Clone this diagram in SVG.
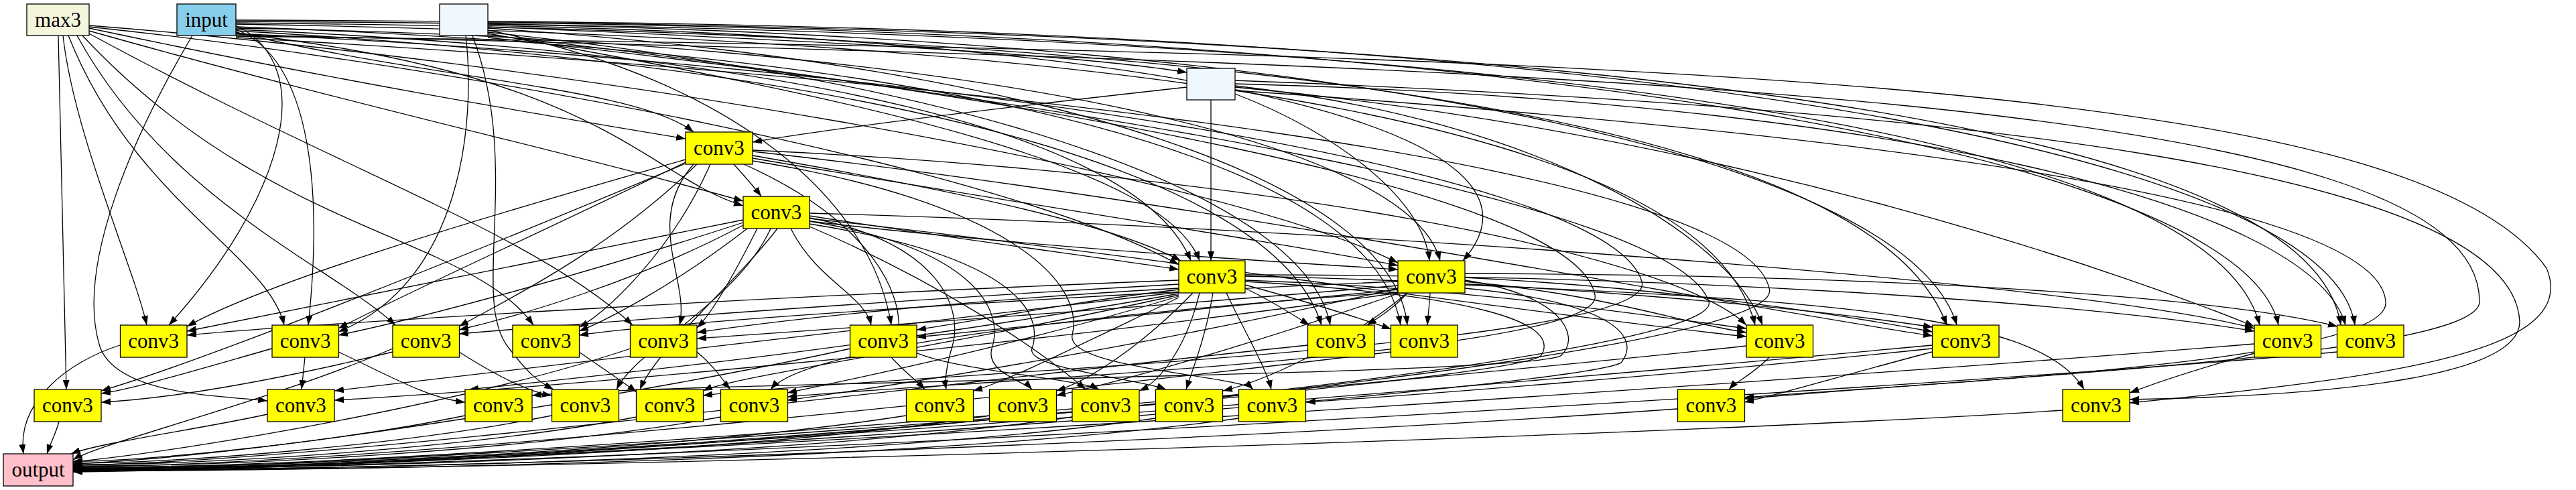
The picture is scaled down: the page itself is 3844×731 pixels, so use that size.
<svg xmlns="http://www.w3.org/2000/svg" width="3844" height="731" viewBox="0 0 3844 731">
<style>
.e{fill:none;stroke:#000;stroke-width:1.3;marker-end:url(#ah)}
g rect{stroke:#000;stroke-width:1.3}
.c{fill:#ffff00}
.b{fill:#f0f8ff}
text{font-family:"Liberation Serif","Times New Roman",serif;font-size:31px;text-anchor:middle;fill:#000}
</style>
<defs>
<marker id="ah" viewBox="0 0 14 10" refX="14" refY="5" markerWidth="14" markerHeight="10" markerUnits="userSpaceOnUse" orient="auto"><path d="M0,0 L14,5 L0,10 z" fill="#000"/></marker>
</defs>
<rect x="0" y="0" width="3844" height="731" fill="#fff"/>
<g id="edges">
<path class="e" d="M728,40 C1200,60 1600,80 1771,108"/>
<path class="e" d="M352,48 C650,120 950,130 1035,197"/>
<path class="e" d="M133,42 C500,120 800,170 1023,207"/>
<path class="e" d="M1771,130 C1500,160 1250,190 1123,212"/>
<path class="e" d="M1095,245 C1110,262 1125,278 1136,293"/>
<path class="e" d="M133,46 C500,150 900,240 1109,300"/>
<path class="e" d="M352,50 C900,110 960,260 1109,307"/>
<path class="e" d="M1807,149 L1807,389"/>
<path class="e" d="M1123,232 C1400,280 1650,330 1762,389"/>
<path class="e" d="M1208,322 C1450,360 1650,385 1759,402"/>
<path class="e" d="M352,44 C1200,80 1700,200 1777,389"/>
<path class="e" d="M728,50 C1300,150 1740,250 1790,389"/>
<path class="e" d="M133,40 C700,100 1500,250 1759,395"/>
<path class="e" d="M1123,236 C1500,300 1900,360 2086,396"/>
<path class="e" d="M1208,330 C1550,370 1900,390 2086,402"/>
<path class="e" d="M133,38 C800,90 1800,250 2086,392"/>
<path class="e" d="M1843,140 C2000,200 2125,300 2133,389"/>
<path class="e" d="M352,42 C1400,60 2100,200 2149,389"/>
<path class="e" d="M728,38 C1800,60 2350,200 2183,389"/>
<path class="e" d="M94,53 C110,200 200,400 219,485"/>
<path class="e" d="M352,38 C480,100 420,300 252,485"/>
<path class="e" d="M1023,238 C700,330 400,420 279,487"/>
<path class="e" d="M1109,328 C800,390 450,460 279,494"/>
<path class="e" d="M1759,418 C1200,440 500,480 279,500"/>
<path class="e" d="M102,53 C200,300 400,380 424,485"/>
<path class="e" d="M352,44 C470,90 480,300 460,485"/>
<path class="e" d="M1023,242 C800,350 600,440 505,490"/>
<path class="e" d="M695,53 C710,180 690,420 505,495"/>
<path class="e" d="M1109,332 C900,400 650,470 505,500"/>
<path class="e" d="M115,53 C250,300 500,400 590,485"/>
<path class="e" d="M1109,336 C950,420 780,470 685,492"/>
<path class="e" d="M1759,424 C1300,450 900,480 685,498"/>
<path class="e" d="M1040,245 C900,380 750,450 685,487"/>
<path class="e" d="M123,53 C400,350 700,350 796,485"/>
<path class="e" d="M1060,245 C1000,380 900,470 864,488"/>
<path class="e" d="M1115,341 C1000,430 900,480 864,494"/>
<path class="e" d="M2086,420 C1600,440 1000,480 864,500"/>
<path class="e" d="M133,50 C500,250 800,350 944,485"/>
<path class="e" d="M1035,245 C960,330 1030,420 1014,485"/>
<path class="e" d="M1130,341 C1090,420 1060,470 1040,489"/>
<path class="e" d="M1759,430 C1400,450 1150,480 1040,496"/>
<path class="e" d="M2086,426 C1700,460 1250,490 1040,505"/>
<path class="e" d="M1180,341 C1220,420 1290,440 1300,485"/>
<path class="e" d="M1759,432 C1600,450 1450,480 1368,492"/>
<path class="e" d="M2086,432 C1800,460 1500,490 1368,503"/>
<path class="e" d="M728,45 C1100,120 1300,300 1330,485"/>
<path class="e" d="M1858,430 C1900,450 1930,470 1954,485"/>
<path class="e" d="M2100,437 C2080,460 2055,475 2040,485"/>
<path class="e" d="M352,46 C1300,100 1900,250 1972,485"/>
<path class="e" d="M728,48 C1500,130 1950,300 1985,485"/>
<path class="e" d="M1858,425 C1950,450 2030,475 2076,491"/>
<path class="e" d="M2134,437 C2133,455 2131,470 2130,485"/>
<path class="e" d="M352,40 C1500,80 2050,250 2090,485"/>
<path class="e" d="M728,42 C1600,100 2080,280 2100,485"/>
<path class="e" d="M352,36 C1800,60 2550,200 2619,485"/>
<path class="e" d="M1858,418 C2200,430 2450,470 2606,490"/>
<path class="e" d="M2186,420 C2400,440 2500,480 2606,496"/>
<path class="e" d="M1208,326 C1700,380 2300,470 2606,502"/>
<path class="e" d="M352,34 C2000,50 2800,200 2905,485"/>
<path class="e" d="M728,36 C2100,60 2850,250 2920,485"/>
<path class="e" d="M1858,412 C2300,420 2700,460 2884,488"/>
<path class="e" d="M2186,414 C2500,430 2750,470 2884,495"/>
<path class="e" d="M1123,226 C1800,300 2600,460 2884,501"/>
<path class="e" d="M352,32 C2300,40 3300,200 3372,485"/>
<path class="e" d="M728,34 C2400,50 3350,250 3400,485"/>
<path class="e" d="M1843,130 C2600,200 3200,420 3364,487"/>
<path class="e" d="M1858,410 C2500,410 3100,450 3364,494"/>
<path class="e" d="M352,30 C2500,35 3450,200 3493,485"/>
<path class="e" d="M728,32 C2600,45 3480,250 3514,485"/>
<path class="e" d="M2186,408 C2800,410 3300,440 3488,487"/>
<path class="e" d="M87,53 L99,581"/>
<path class="e" d="M406,520 C300,550 200,580 151,587"/>
<path class="e" d="M1023,244 C700,380 300,540 151,583"/>
<path class="e" d="M586,525 C400,570 250,595 151,600"/>
<path class="e" d="M455,533 L450,581"/>
<path class="e" d="M287,53 C200,200 110,400 150,520 C180,590 330,590 399,598"/>
<path class="e" d="M1759,436 C1200,500 700,560 499,583"/>
<path class="e" d="M2086,437 C1500,520 800,580 499,597"/>
<path class="e" d="M505,525 C580,560 640,595 694,600"/>
<path class="e" d="M705,53 C780,250 700,450 760,520 C790,560 805,570 826,581"/>
<path class="e" d="M1759,438 C1300,520 900,560 700,581"/>
<path class="e" d="M685,525 C740,560 790,585 823,590"/>
<path class="e" d="M1150,341 C1100,450 950,520 920,581"/>
<path class="e" d="M1160,341 C1100,420 980,520 955,581"/>
<path class="e" d="M1759,440 C1400,520 1100,560 1049,583"/>
<path class="e" d="M864,525 C900,550 930,570 950,585"/>
<path class="e" d="M2086,436 C1600,470 1200,520 1150,581"/>
<path class="e" d="M1759,442 C1500,520 1250,570 1175,586"/>
<path class="e" d="M1040,525 C1070,550 1080,570 1090,581"/>
<path class="e" d="M2086,430 C1700,520 1300,580 1175,597"/>
<path class="e" d="M1759,444 C1600,520 1500,570 1452,583"/>
<path class="e" d="M1330,533 C1350,555 1370,570 1380,581"/>
<path class="e" d="M1780,437 C1700,520 1620,570 1576,583"/>
<path class="e" d="M2086,438 C1850,520 1650,575 1576,590"/>
<path class="e" d="M1790,437 C1770,520 1730,570 1700,583"/>
<path class="e" d="M1208,338 C1400,420 1550,520 1620,581"/>
<path class="e" d="M1810,437 C1800,500 1780,550 1770,581"/>
<path class="e" d="M2100,437 C2000,520 1880,570 1825,583"/>
<path class="e" d="M1830,437 C1860,500 1890,550 1897,581"/>
<path class="e" d="M2883,520 C2500,560 2100,590 1949,600"/>
<path class="e" d="M2883,525 C2750,560 2650,590 2603,600"/>
<path class="e" d="M352,52 C2500,100 3700,150 3700,450 C3700,530 3000,560 2603,595"/>
<path class="e" d="M2186,425 C2800,450 3050,480 3110,581"/>
<path class="e" d="M3364,527 C3280,550 3220,570 3178,586"/>
<path class="e" d="M352,54 C2500,80 3600,120 3800,400 C3850,520 3600,560 3178,601"/>
<path class="e" d="M1843,120 C2900,160 3750,250 3760,480 C3760,560 3500,590 3178,596"/>
<path class="e" d="M2640,533 C2620,555 2590,570 2580,581"/>
<path class="e" d="M1208,325 C1400,360 1440,460 1420,520 C1410,555 1410,570 1412,581"/>
<path class="e" d="M1208,330 C1450,370 1500,460 1480,520 C1470,555 1530,570 1540,581"/>
<path class="e" d="M1208,334 C1500,380 1560,460 1540,520 C1530,550 1700,565 1740,581"/>
<path class="e" d="M1123,240 C1500,300 1620,420 1600,500 C1590,550 1850,560 1870,581"/>
<path class="e" d="M1110,245 C1300,330 1350,440 1340,500 C1335,550 1600,560 1640,581"/>
<path class="e" d="M2186,418 C2330,440 2360,500 2330,530 C2300,560 1000,570 794,590"/>
<path class="e" d="M352,50 C1400,100 2400,250 2450,420 C2480,520 1300,560 1049,590"/>
<path class="e" d="M728,52 C1500,140 2350,280 2380,440 C2400,530 1400,570 1175,592"/>
<path class="e" d="M1843,128 C2300,180 2580,350 2630,485"/>
<path class="e" d="M1123,224 C1900,260 2500,380 2606,485"/>
<path class="e" d="M1843,125 C2800,150 3450,300 3500,485"/>
<path class="e" d="M1208,318 C2000,340 3100,420 3364,490"/>
<path class="e" d="M1843,135 C2800,200 3550,300 3560,450 C3570,540 2900,570 2603,593"/>
<path class="e" d="M179,515 C100,540 25,600 35,677"/>
<path class="e" d="M88,629 C84,645 75,662 70,677"/>
<path class="e" d="M399,618 C300,640 150,660 106,677"/>
<path class="e" d="M694,620 C500,660 200,690 109,688"/>
<path class="e" d="M823,620 C600,665 250,692 109,691"/>
<path class="e" d="M950,622 C700,670 300,694 109,693"/>
<path class="e" d="M1076,622 C800,672 350,696 109,695"/>
<path class="e" d="M1352,620 C1000,675 400,698 109,697"/>
<path class="e" d="M1477,620 C1100,678 450,699 109,698"/>
<path class="e" d="M1600,622 C1200,680 500,700 109,699"/>
<path class="e" d="M1724,624 C1300,684 550,701 109,700"/>
<path class="e" d="M1849,624 C1400,686 600,702 109,701"/>
<path class="e" d="M2503,610 C1800,660 700,700 109,702"/>
<path class="e" d="M3078,612 C2500,650 900,700 109,703"/>
<path class="e" d="M586,520 C400,600 150,660 109,686"/>
<path class="e" d="M941,520 C700,600 300,670 109,689"/>
<path class="e" d="M1269,520 C1000,580 400,680 109,692"/>
<path class="e" d="M1952,515 C1500,560 500,690 109,694"/>
<path class="e" d="M2076,525 C1700,570 600,695 109,696"/>
<path class="e" d="M2606,516 C2200,560 700,700 109,697"/>
<path class="e" d="M3364,513 C2800,560 800,700 109,699"/>
<path class="e" d="M3488,525 C3000,570 900,702 109,700"/>
<path class="e" d="M2883,515 C2400,560 800,700 109,701"/>
<path class="e" d="M1858,420 C2200,440 2330,480 2300,530 C2270,570 800,690 109,701"/>
<path class="e" d="M2186,430 C2400,450 2450,500 2420,540 C2390,575 900,695 109,702"/>
<path class="e" d="M352,56 C1500,120 2600,250 2640,430 C2680,540 1000,690 109,703"/>
<path class="e" d="M728,56 C1600,150 2500,300 2550,450 C2580,540 1000,695 109,704"/>
</g>
<g id="n_max3"><rect x="40" y="6" width="93" height="47" fill="#f5f5dc"/><text x="86.5" y="39.5">max3</text></g>
<g id="n_input"><rect x="264" y="6" width="88" height="47" fill="#87ceeb"/><text x="308" y="39.5">input</text></g>
<g id="n_e1"><rect class="b" x="656" y="6" width="72" height="47"/></g>
<g id="n_e2"><rect class="b" x="1771" y="102" width="72" height="47"/></g>
<g id="n_a"><rect class="c" x="1023" y="197" width="100" height="48"/><text x="1073" y="231">conv3</text></g>
<g id="n_b"><rect class="c" x="1109" y="293" width="99" height="48"/><text x="1158.5" y="327">conv3</text></g>
<g id="n_c"><rect class="c" x="1759" y="389" width="99" height="48"/><text x="1808.5" y="423">conv3</text></g>
<g id="n_d"><rect class="c" x="2086" y="389" width="100" height="48"/><text x="2136" y="423">conv3</text></g>
<g id="n_r1a"><rect class="c" x="179.5" y="485" width="99.5" height="48"/><text x="229.25" y="519">conv3</text></g>
<g id="n_r1b"><rect class="c" x="406" y="485" width="99.5" height="48"/><text x="455.75" y="519">conv3</text></g>
<g id="n_r1c"><rect class="c" x="586" y="485" width="99.5" height="48"/><text x="635.75" y="519">conv3</text></g>
<g id="n_r1d"><rect class="c" x="765" y="485" width="99.5" height="48"/><text x="814.75" y="519">conv3</text></g>
<g id="n_r1e"><rect class="c" x="940.5" y="485" width="99.5" height="48"/><text x="990.25" y="519">conv3</text></g>
<g id="n_r1f"><rect class="c" x="1268.5" y="485" width="99.5" height="48"/><text x="1318.25" y="519">conv3</text></g>
<g id="n_r1g"><rect class="c" x="1951.5" y="485" width="99.5" height="48"/><text x="2001.25" y="519">conv3</text></g>
<g id="n_r1h"><rect class="c" x="2075.5" y="485" width="99.5" height="48"/><text x="2125.25" y="519">conv3</text></g>
<g id="n_r1i"><rect class="c" x="2606" y="485" width="99.5" height="48"/><text x="2655.75" y="519">conv3</text></g>
<g id="n_r1j"><rect class="c" x="2883.5" y="485" width="99.5" height="48"/><text x="2933.25" y="519">conv3</text></g>
<g id="n_r1k"><rect class="c" x="3364" y="485" width="99.5" height="48"/><text x="3413.75" y="519">conv3</text></g>
<g id="n_r1l"><rect class="c" x="3487.5" y="485" width="99.5" height="48"/><text x="3537.25" y="519">conv3</text></g>
<g id="n_r2a"><rect class="c" x="51" y="581" width="100" height="48"/><text x="101" y="615">conv3</text></g>
<g id="n_r2b"><rect class="c" x="399" y="581" width="100" height="48"/><text x="449" y="615">conv3</text></g>
<g id="n_r2c"><rect class="c" x="694" y="581" width="100" height="48"/><text x="744" y="615">conv3</text></g>
<g id="n_r2d"><rect class="c" x="823.5" y="581" width="100" height="48"/><text x="873.5" y="615">conv3</text></g>
<g id="n_r2e"><rect class="c" x="949.5" y="581" width="100" height="48"/><text x="999.5" y="615">conv3</text></g>
<g id="n_r2f"><rect class="c" x="1075.5" y="581" width="100" height="48"/><text x="1125.5" y="615">conv3</text></g>
<g id="n_r2g"><rect class="c" x="1352.5" y="581" width="100" height="48"/><text x="1402.5" y="615">conv3</text></g>
<g id="n_r2h"><rect class="c" x="1476.5" y="581" width="100" height="48"/><text x="1526.5" y="615">conv3</text></g>
<g id="n_r2i"><rect class="c" x="1600" y="581" width="100" height="48"/><text x="1650" y="615">conv3</text></g>
<g id="n_r2j"><rect class="c" x="1724.5" y="581" width="100" height="48"/><text x="1774.5" y="615">conv3</text></g>
<g id="n_r2k"><rect class="c" x="1848.5" y="581" width="100" height="48"/><text x="1898.5" y="615">conv3</text></g>
<g id="n_r2l"><rect class="c" x="2503.5" y="581" width="100" height="48"/><text x="2553.5" y="615">conv3</text></g>
<g id="n_r2m"><rect class="c" x="3078" y="581" width="100" height="48"/><text x="3128" y="615">conv3</text></g>
<g id="n_output"><rect x="5" y="677" width="104" height="48" fill="#ffc0cb"/><text x="57" y="711">output</text></g>
</svg>
